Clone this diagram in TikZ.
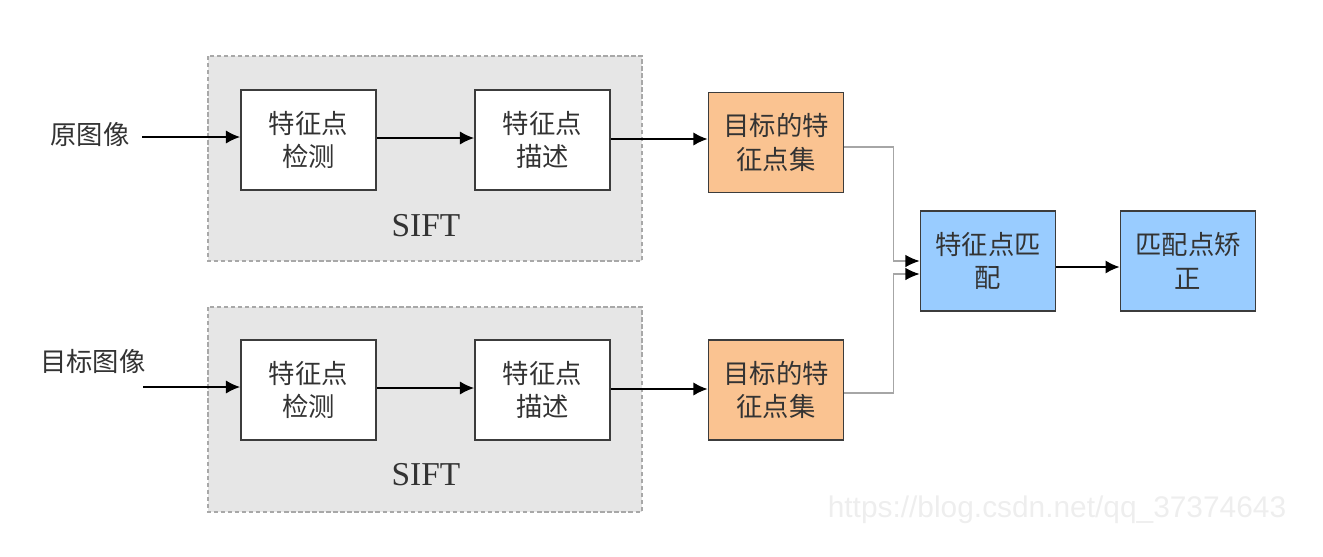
\documentclass[tikz,border=0pt]{standalone}
\usepackage{fontspec}
\newfontfamily\cjk{Noto Sans CJK SC}
\newfontfamily\serifl{Liberation Serif}
\newfontfamily\sansl{Liberation Sans}
\usetikzlibrary{arrows.meta,calc}
\definecolor{boxline}{HTML}{3C3C3C}
\definecolor{txt}{HTML}{333333}
\definecolor{siftfill}{HTML}{E6E6E6}
\definecolor{siftline}{HTML}{A8A8A8}
\definecolor{orangefill}{HTML}{FAC391}
\definecolor{bluefill}{HTML}{99CCFF}
\definecolor{wm}{HTML}{EEEEEE}
\tikzset{
  procbox/.style={draw=boxline, line width=1.1pt, minimum width=2.7cm, minimum height=2cm,
    align=center, text=txt, font=\cjk\fontsize{15}{19}\selectfont, inner sep=0pt},
  whitebox/.style={procbox, fill=white},
  orangebox/.style={procbox, fill=orangefill},
  bluebox/.style={procbox, fill=bluefill},
  siftgroup/.style={draw=siftline, fill=siftfill, dashed, dash pattern=on 2.5pt off 1.5pt, line width=0.6pt},
  lbl/.style={text=txt, font=\cjk\fontsize{15}{19}\selectfont, inner sep=0pt},
  sifttxt/.style={text=txt, font=\serifl\fontsize{19}{22}\selectfont, inner sep=0pt},
  arr/.style={draw=black, line width=0.85pt, -{Latex[length=8pt,width=7.5pt]}},
  garr/.style={draw=gray!70, line width=0.6pt, -{Latex[length=8pt,width=7pt,color=black]}}
}
\begin{document}
\begin{tikzpicture}[x=0.02cm, y=-0.02cm]
\useasboundingbox (0,0) rectangle (1323,556);
% SIFT groups
\draw[siftgroup] (208,56) rectangle (642,261);
\draw[siftgroup] (208,307) rectangle (642,512);
\node[sifttxt] (sift1) at (426,226) {SIFT};
\node[sifttxt] (sift2) at (426,475) {SIFT};
% input labels
\node[lbl] (src) at (90,134) {原图像};
\node[lbl] (tgt) at (93,361) {目标图像};
\coordinate (in1) at (142,137);
\coordinate (in2) at (143,387);
% boxes
\node[whitebox] (d1) at (308.5,140) {特征点\\检测};
\node[whitebox] (s1) at (542.5,140) {特征点\\描述};
\node[orangebox] (o1) at (776,142.5) {目标的特\\征点集};
\node[whitebox] (d2) at (308.5,390) {特征点\\检测};
\node[whitebox] (s2) at (542.5,390) {特征点\\描述};
\node[orangebox] (o2) at (776,390) {目标的特\\征点集};
\node[bluebox] (m) at (988,261) {特征点匹\\配};
\node[bluebox] (c) at (1188,261) {匹配点矫\\正};
% arrows
\draw[arr] (in1) -- (in1 -| d1.west);
\draw[arr] (in2) -- (in2 -| d2.west);
\draw[arr] ($(d1.east)+(0,-2)$) -- ($(s1.west)+(0,-2)$);
\draw[arr] ($(d2.east)+(0,-2)$) -- ($(s2.west)+(0,-2)$);
\draw[arr] ($(s1.east)+(0,-1)$) -- ($(s1.east -| o1.west)+(0,-1)$);
\draw[arr] ($(s2.east)+(0,-1)$) -- ($(s2.east -| o2.west)+(0,-1)$);
\draw[garr] ($(o1.east)+(0,4.5)$) -| ($(m.west)+(-26,0)$) -- (m.west);
\draw[garr] ($(o2.east)+(0,3)$) -| ($(m.west)+(-26,13)$) -- ($(m.west)+(0,13)$);
\draw[arr] ($(m.east)+(0,6)$) -- ($(c.west)+(0,6)$);
% watermark
\node[text=wm, font=\sansl\fontsize{17}{20}\selectfont, inner sep=0pt] (wmk) at (1057,510) {https://blog.csdn.net/qq\_37374643};
\end{tikzpicture}
\end{document}
